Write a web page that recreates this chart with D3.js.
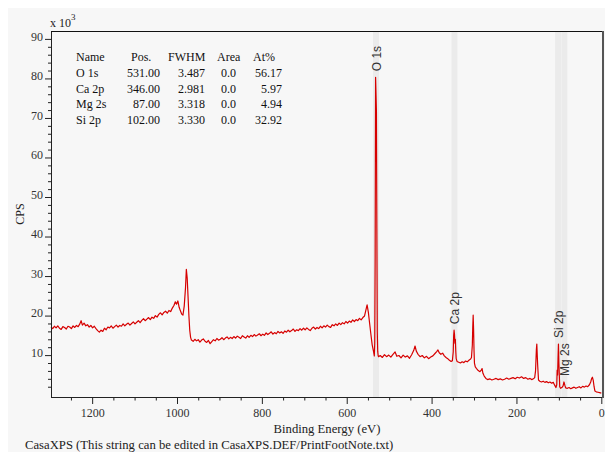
<!DOCTYPE html>
<html>
<head>
<meta charset="utf-8">
<script src="https://cdn.jsdelivr.net/npm/d3@7"></script>
<style>
  html, body { margin: 0; padding: 0; background: #ffffff; }
  svg { display: block; }
</style>
</head>
<body>
<svg id="chart" width="605" height="452"></svg>
<script>
// ---------------- DATA ----------------
// Survey spectrum: [binding energy (eV), CPS in thousands]
const spectrum = [
  [1297,17.1],[1293,16.7],[1289,17.3],[1285,16.9],[1281,17.4],[1277,16.8],[1273,16.5],[1269,17.2],
  [1265,17.0],[1261,16.6],[1257,17.3],[1253,17.1],[1249,16.7],[1245,17.4],[1241,17.0],[1237,17.5],
  [1233,17.2],[1229,17.9],[1226,18.7],[1223,17.6],[1219,18.1],[1215,17.4],[1211,17.7],[1207,17.1],
  [1203,17.5],[1199,16.9],[1195,17.3],[1191,16.7],[1187,16.2],[1183,15.8],[1179,16.3],[1175,16.0],
  [1171,16.8],[1167,16.4],[1163,17.1],[1159,16.9],[1155,17.4],[1151,16.8],[1147,17.2],[1143,17.6],
  [1139,17.1],[1135,17.5],[1131,17.3],[1127,17.9],[1123,17.4],[1119,17.8],[1115,18.1],[1111,17.6],
  [1107,18.0],[1103,18.4],[1099,17.9],[1095,18.3],[1091,18.7],[1087,18.2],[1083,18.8],[1079,19.2],
  [1075,18.7],[1071,19.1],[1067,19.5],[1063,19.0],[1059,19.6],[1055,19.3],[1051,20.0],[1047,19.6],
  [1043,20.3],[1039,20.7],[1035,20.2],[1031,20.8],[1027,21.1],[1023,20.6],[1019,21.3],[1015,21.0],
  [1011,21.9],[1007,22.6],[1004,23.5],[1001,22.9],[998,23.7],[995,22.1],[992,21.2],[989,20.4],
  [986,20.1],[983,22.4],[980,27.0],[978,31.7],[976,29.5],[974,24.8],[972,20.0],[970,16.3],
  [968,14.5],[966,13.8],
  [962,13.5],[958,14.0],[954,13.6],[950,13.9],[946,13.3],[942,13.8],[938,14.1],[934,13.5],
  [930,13.2],[926,13.7],[922,12.9],[918,13.4],[914,13.9],[910,13.6],[906,14.2],[902,13.8],
  [898,14.0],[894,14.4],[890,13.9],[886,14.3],[882,14.6],[878,14.1],[874,14.5],[870,14.2],
  [866,14.7],[862,14.3],[858,14.8],[854,14.5],[850,14.2],[846,14.9],[842,14.6],[838,14.3],
  [834,14.9],[830,14.5],[826,15.0],[822,14.7],[818,15.2],[814,14.8],[810,15.1],[806,15.4],
  [802,14.9],[798,15.3],[794,15.0],[790,15.6],[786,15.2],[782,15.5],[778,15.9],[774,15.3],
  [770,15.7],[766,15.4],[762,16.0],[758,15.6],[754,15.9],[750,15.5],[746,16.1],[742,15.8],
  [738,16.3],[734,15.9],[730,16.2],[726,16.6],[722,16.0],[718,16.4],[714,16.2],[710,16.7],
  [706,16.3],[702,16.8],[698,16.4],[694,16.9],[690,16.5],[686,16.2],[682,16.8],[678,17.1],
  [674,16.6],[670,17.0],[666,16.7],[662,17.3],[658,16.9],[654,17.4],[650,17.1],[646,17.6],
  [642,17.2],[638,17.0],[634,17.7],[630,17.4],[626,17.9],[622,17.5],[618,18.1],[614,17.7],
  [610,18.2],[606,17.9],[602,18.5],[598,18.1],[594,18.6],[590,18.3],[586,18.9],[582,18.5],
  [578,19.0],[574,18.7],[570,19.3],[566,18.9],[562,19.5],[558,19.9],[555,21.3],[552,22.7],
  [549,20.8],[546,18.0],[543,15.2],[540,12.6],[537,11.0],[535,9.8],
  [534,13.0],[533,35.0],[532,80.3],[531,76.0],[530,71.6],[529,42.0],[528,16.0],[527,11.0],
  [526,9.9],[525,9.6],
  [521,9.9],[516,9.4],[511,10.1],[506,9.6],[501,10.0],[496,9.5],[491,10.2],[486,10.8],
  [482,9.7],[477,9.9],[472,9.3],[467,10.0],[462,9.5],[457,9.8],[452,9.2],[447,10.1],
  [442,11.2],[439,12.3],[436,11.0],[432,10.2],[427,9.6],[422,9.9],[417,9.3],[412,9.7],
  [407,9.1],[402,9.5],[397,9.8],[392,10.4],[388,10.9],[385,11.3],[382,10.6],[378,10.2],
  [374,10.5],[370,9.8],[366,9.4],[362,9.1],[358,8.7],[354,8.4],[351,8.6],[349,10.8],
  [348,14.9],[347,16.3],[346,15.2],[345,13.0],[344,14.0],[343,11.0],[342,9.1],[340,8.4],
  [336,8.2],[332,8.0],[328,8.3],[324,8.1],[320,8.5],[316,8.3],[312,8.7],[308,9.0],
  [306,9.4],[304,12.5],[303,17.0],[302,20.1],[301,16.5],[300,11.2],[299,8.0],[297,7.0],
  [294,6.6],[290,6.1],[286,5.8],[283,6.2],[281,6.6],[279,5.4],[276,4.7],[272,4.1],
  [268,3.8],[263,4.0],[258,3.7],[253,3.9],[248,4.1],[243,3.8],[238,4.0],[233,3.7],
  [228,3.9],[223,4.2],[218,3.9],[213,4.1],[208,4.3],[203,4.0],[198,4.4],[193,4.2],
  [188,4.5],[183,4.1],[178,4.3],[173,3.9],[168,4.1],[164,3.8],[160,4.0],[157,4.3],
  [155,6.0],[153,11.5],[152,12.8],[151,10.0],[150,7.5],[148,3.7],[145,3.4],[141,3.2],
  [137,3.4],[133,3.1],[129,3.3],[125,3.0],[121,3.2],[117,2.9],[113,3.1],[110,2.4],
  [107,1.8],[105,2.5],[104,6.2],[103,5.0],[102,9.0],[101,12.8],[100,8.0],[98,2.0],
  [96,1.6],[93,1.8],[90,2.2],[88,3.2],[86,2.4],[84,1.7],[80,1.6],[76,1.8],
  [72,1.5],[68,1.7],[64,1.9],[60,1.6],[56,1.8],[52,2.0],[48,1.7],[44,2.1],
  [40,1.9],[36,2.2],[32,2.0],[28,2.5],[25,3.2],[23,4.0],[21,4.4],[19,3.6],
  [17,2.0],[15,0.9],[12,0.7],[8,0.6],[4,0.5],[0,0.4]
];

// Quantification table
const tableHeaders = ["Name", "Pos.", "FWHM", "Area", "At%"];
const peakNames = ["O 1s", "Ca 2p", "Mg 2s", "Si 2p"];
const peakPos   = [531.00, 346.00, 87.00, 102.00];
const peakFWHM  = [3.487, 2.981, 3.318, 3.330];
const peakArea  = [0.0, 0.0, 0.0, 0.0];
const peakAtPct = [56.17, 5.97, 4.94, 32.92];

// Axis ticks
const xMajorTicks = [1200, 1000, 800, 600, 400, 200, 0];
const yMajorTicks = [10, 20, 30, 40, 50, 60, 70, 80, 90];

// ---------------- DRAWING ----------------
(function () {
const svg = d3.select("#chart");
const W = 605, H = 452;
const pL = 51, pR = 603, pT = 31, pB = 397;
const serif = "'Liberation Serif', 'Times New Roman', Times, serif";
const sans = "'Liberation Sans', Arial, Helvetica, sans-serif";

svg.append("rect").attr("x", 8).attr("y", 8).attr("width", W - 8).attr("height", H - 8).attr("fill", "#f7f7f7");

const x = d3.scaleLinear().domain([1297, -4]).range([pL, pR]);
const y = d3.scaleLinear().domain([-0.6, 92]).range([pB, pT]);

// component region bands
const bandHalf = 7;
svg.append("g").selectAll("rect").data(peakPos).join("rect")
  .attr("x", d => x(d + bandHalf))
  .attr("width", d => x(d - bandHalf) - x(d + bandHalf))
  .attr("y", pT + 1).attr("height", pB - pT - 1)
  .attr("fill", "#ebebeb");

// spectrum
const line = d3.line().x(d => x(d[0])).y(d => y(d[1]));
svg.append("path").datum(spectrum)
  .attr("d", line).attr("fill", "none")
  .attr("stroke", "#d60000").attr("stroke-width", 1.2)
  .attr("stroke-linejoin", "round");

// peak labels
peakNames.forEach((name, i) => {
  const p = peakPos[i];
  const near = spectrum.filter(d => Math.abs(d[0] - p) <= 3);
  const peakTop = d3.max(near, d => d[1]);
  const px = x(p) + 4.5, py = y(peakTop) - 6;
  svg.append("text")
    .attr("transform", `translate(${px},${py}) rotate(-90)`)
    .attr("font-family", sans).attr("font-size", 12).attr("fill", "#333")
    .text(name);
});

// Y axis
const yTicks = d3.range(2, 91, 2);
const yAxis = d3.axisLeft(y).tickValues(yTicks)
  .tickSize(0)
  .tickFormat(d => yMajorTicks.includes(d) ? d : "");
const gy = svg.append("g").attr("transform", `translate(${pL},0)`).call(yAxis);
gy.select(".domain").remove();
gy.selectAll(".tick line").attr("x2", d => yMajorTicks.includes(d) ? -6 : -3).attr("stroke", "#222");
gy.selectAll(".tick text").attr("x", -8).attr("dy", "0.1em")
  .attr("font-family", serif).attr("font-size", 12).attr("fill", "#333");

// X axis
const xTicks = d3.range(0, 1297, 50);
const xAxis = d3.axisBottom(x).tickValues(xTicks).tickSize(0)
  .tickFormat(d => xMajorTicks.includes(d) ? d : "");
const gx = svg.append("g").attr("transform", `translate(0,${pB})`).call(xAxis);
gx.select(".domain").remove();
gx.selectAll(".tick line").attr("y2", d => xMajorTicks.includes(d) ? 7 : 3.5).attr("stroke", "#222");
gx.selectAll(".tick text").attr("y", 20).attr("dy", 0)
  .attr("font-family", serif).attr("font-size", 12).attr("fill", "#333");

// frame lines
svg.append("line").attr("x1", pL + 0.5).attr("x2", pL + 0.5).attr("y1", pT).attr("y2", pB + 0.5).attr("stroke", "#222");
svg.append("line").attr("x1", pL).attr("x2", pR + 1).attr("y1", pB + 0.5).attr("y2", pB + 0.5).attr("stroke", "#222");
svg.append("line").attr("x1", pL).attr("x2", pR + 1).attr("y1", pT + 0.5).attr("y2", pT + 0.5).attr("stroke", "#111");
svg.append("line").attr("x1", pR).attr("x2", pR).attr("y1", pT).attr("y2", pB + 1).attr("stroke", "#555").attr("stroke-width", 2);

// axis titles
const xt = svg.append("text").attr("x", 50).attr("y", 27).attr("font-family", serif).attr("font-size", 12).attr("fill", "#222");
xt.append("tspan").text("x 10");
xt.append("tspan").attr("dy", -7).attr("font-size", 9).text("3");

svg.append("text").attr("transform", `translate(24,${(pT + pB) / 2}) rotate(-90)`)
  .attr("text-anchor", "middle").attr("font-family", serif).attr("font-size", 12).attr("fill", "#222")
  .text("CPS");

svg.append("text").attr("x", (pL + pR) / 2).attr("y", 433).attr("text-anchor", "middle")
  .attr("font-family", serif).attr("font-size", 12.7).attr("fill", "#222")
  .text("Binding Energy (eV)");

svg.append("text").attr("x", 25).attr("y", 449)
  .attr("font-family", serif).attr("font-size", 12.7).attr("fill", "#222")
  .text("CasaXPS (This string can be edited in CasaXPS.DEF/PrintFootNote.txt)");

// quantification table
const tbl = svg.append("g").attr("font-family", serif).attr("font-size", 12).attr("fill", "#111");
const headerX = [76, 131, 168, 217, 253];
tableHeaders.forEach((h, i) => tbl.append("text").attr("x", headerX[i]).attr("y", 61).text(h));
const rowY0 = 77, rowDy = 15.7;
peakNames.forEach((n, i) => {
  const ry = rowY0 + i * rowDy;
  tbl.append("text").attr("x", 76).attr("y", ry).text(n);
  tbl.append("text").attr("x", 160).attr("y", ry).attr("text-anchor", "end").text(peakPos[i].toFixed(2));
  tbl.append("text").attr("x", 205).attr("y", ry).attr("text-anchor", "end").text(peakFWHM[i].toFixed(3));
  tbl.append("text").attr("x", 236).attr("y", ry).attr("text-anchor", "end").text(peakArea[i].toFixed(1));
  tbl.append("text").attr("x", 282).attr("y", ry).attr("text-anchor", "end").text(peakAtPct[i].toFixed(2));
});
})();
</script>
</body>
</html>
